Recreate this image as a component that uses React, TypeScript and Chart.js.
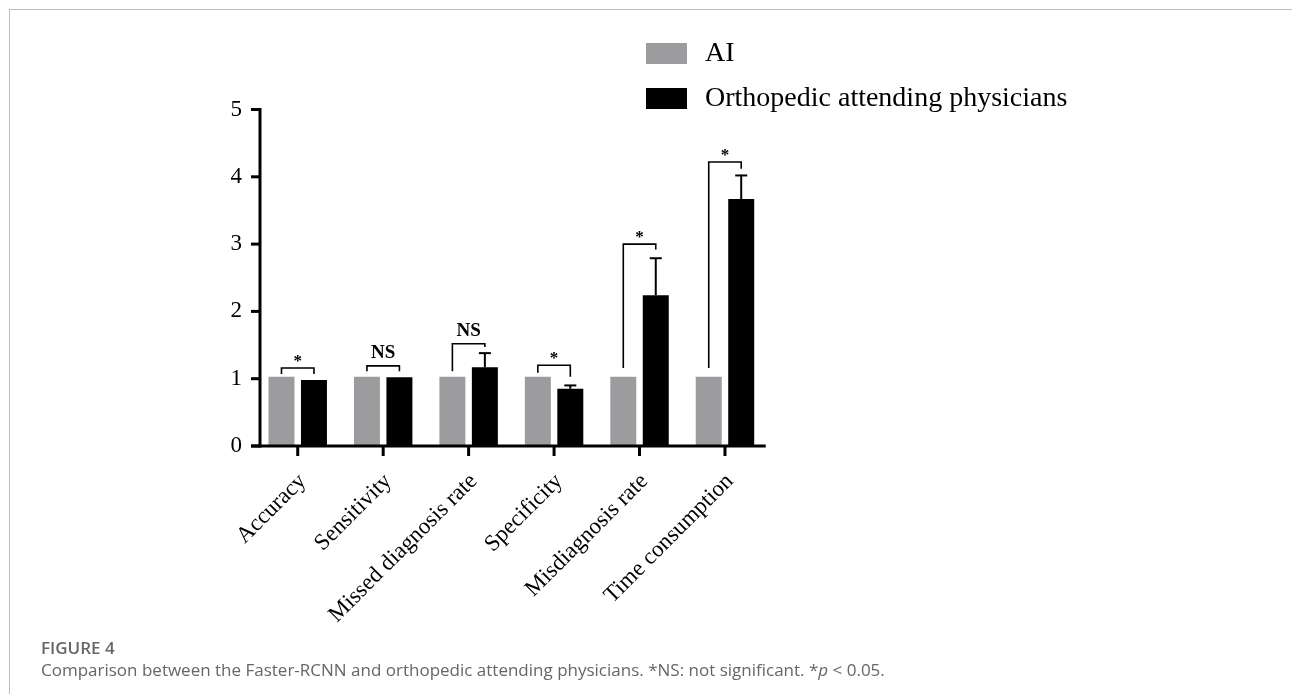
import React, { useEffect, useRef } from 'react';
import { Chart, registerables } from 'chart.js';

Chart.register(...registerables);

const categories = [
  'Accuracy',
  'Sensitivity',
  'Missed diagnosis rate',
  'Specificity',
  'Misdiagnosis rate',
  'Time consumption',
];
const seriesNames = ['AI', 'Orthopedic attending physicians'];
const aiValues = [1.03, 1.03, 1.03, 1.03, 1.03, 1.03];
const physicianValues = [0.98, 1.02, 1.17, 0.85, 2.24, 3.67];
const physicianErrorUp = [0, 0, 0.21, 0.05, 0.55, 0.35];
const yTicks = [0, 1, 2, 3, 4, 5];
const sigLabels = ['*', 'NS', 'NS', '*', '*', '*'];
const bracketTop = [1.16, 1.19, 1.52, 1.2, 3.0, 4.22];
const bracketLeftEnd = [1.07, 1.11, 1.11, 1.09, 1.16, 1.16];
const bracketRightEnd = [1.07, 1.11, 1.47, 1.03, 2.92, 4.12];

const SERIF = '"Liberation Serif", "Times New Roman", serif';
const GRAY = '#9c9c9f';

const annotations = {
  id: 'annotations',
  afterDatasetsDraw(chart: any) {
    const { ctx, chartArea, scales } = chart;
    const x = scales.x;
    const y = scales.y;
    const m0 = chart.getDatasetMeta(0);
    const m1 = chart.getDatasetMeta(1);
    const line = (x1: number, y1: number, x2: number, y2: number) => {
      ctx.beginPath();
      ctx.moveTo(x1, y1);
      ctx.lineTo(x2, y2);
      ctx.stroke();
    };
    ctx.save();
    ctx.strokeStyle = '#000';
    ctx.fillStyle = '#000';

    // error bars (upper only)
    ctx.lineWidth = 2;
    physicianValues.forEach((v, i) => {
      const e = physicianErrorUp[i];
      if (!e) return;
      const bx = m1.data[i].x;
      const y0 = y.getPixelForValue(v);
      const y1 = y.getPixelForValue(v + e);
      line(bx, y0, bx, y1);
      line(bx - 6, y1, bx + 6, y1);
    });

    // significance brackets
    ctx.lineWidth = 1.6;
    categories.forEach((_, i) => {
      const lx = m0.data[i].x;
      const rx = m1.data[i].x;
      const ty = y.getPixelForValue(bracketTop[i]);
      ctx.beginPath();
      ctx.moveTo(lx, y.getPixelForValue(bracketLeftEnd[i]));
      ctx.lineTo(lx, ty);
      ctx.lineTo(rx, ty);
      ctx.lineTo(rx, y.getPixelForValue(bracketRightEnd[i]));
      ctx.stroke();
      const cx = (lx + rx) / 2;
      ctx.textAlign = 'center';
      ctx.textBaseline = 'alphabetic';
      if (sigLabels[i] === '*') {
        ctx.font = `bold 17px ${SERIF}`;
        ctx.fillText('*', cx, ty - 2);
      } else {
        ctx.font = `bold 19px ${SERIF}`;
        ctx.fillText(sigLabels[i], cx, ty - 8);
      }
    });

    // axes
    ctx.lineWidth = 3;
    const ax = chartArea.left + 5;
    const y0 = y.getPixelForValue(0);
    const yTop = y.getPixelForValue(yTicks[yTicks.length - 1]);
    line(ax, y0 + 1.5, ax, yTop - 1.5);
    yTicks.forEach((t) => {
      const py = y.getPixelForValue(t);
      line(ax - 9, py, ax, py);
    });
    line(ax - 9, y0, chartArea.right - 2, y0);
    categories.forEach((_, i) => {
      const px = x.getPixelForValue(i);
      line(px, y0, px, y0 + 10);
    });

    // legend
    ctx.font = `28px ${SERIF}`;
    ctx.textAlign = 'left';
    ctx.textBaseline = 'middle';
    chart.data.datasets.forEach((ds: any, i: number) => {
      const top = 43 + i * 45;
      ctx.fillStyle = ds.backgroundColor;
      ctx.fillRect(646, top, 41, 21);
      ctx.fillStyle = '#000';
      ctx.fillText(ds.label, 705, top + 11);
    });
    ctx.restore();
  },
};

export default function App() {
  const canvasRef = useRef<HTMLCanvasElement | null>(null);

  useEffect(() => {
    if (!canvasRef.current) return;
    const chart = new Chart(canvasRef.current, {
      type: 'bar',
      data: {
        labels: categories,
        datasets: [
          {
            label: seriesNames[0],
            data: aiValues,
            backgroundColor: GRAY,
            borderWidth: 0,
            categoryPercentage: 0.76,
            barPercentage: 0.8,
          },
          {
            label: seriesNames[1],
            data: physicianValues,
            backgroundColor: '#000000',
            borderWidth: 0,
            categoryPercentage: 0.76,
            barPercentage: 0.8,
          },
        ],
      },
      options: {
        animation: false,
        responsive: false,
        devicePixelRatio: 1,
        layout: { padding: { left: 0, top: 109.5, right: 524.3, bottom: 0 } },
        plugins: {
          legend: { display: false },
          tooltip: { enabled: false },
        },
        scales: {
          x: {
            offset: true,
            grid: { display: false },
            border: { display: false },
            ticks: {
              minRotation: 45,
              maxRotation: 45,
              autoSkip: false,
              padding: 14,
              labelOffset: 5,
              color: '#000',
              font: { family: SERIF, size: 23 },
            },
            afterFit: (scale: any) => {
              scale.height = 194;
            },
          },
          y: {
            min: 0,
            max: 5,
            grid: { display: false },
            border: { display: false },
            afterBuildTicks: (scale: any) => {
              scale.ticks = yTicks.map((v) => ({ value: v }));
            },
            ticks: {
              padding: 5,
              color: '#000',
              font: { family: SERIF, size: 23 },
            },
            afterFit: (scale: any) => {
              scale.width = 255;
            },
          },
        },
      },
      plugins: [annotations],
    });
    return () => chart.destroy();
  }, []);

  return (
    <div
      style={{
        position: 'fixed',
        left: 0,
        top: 0,
        width: 1292,
        height: 694,
        background: '#fff',
        overflow: 'hidden',
      }}
    >
      <div
        style={{
          position: 'absolute',
          left: 9,
          top: 9,
          width: 1300,
          height: 700,
          borderTop: '1px solid #bdbdbd',
          borderLeft: '1px solid #bdbdbd',
        }}
      />
      <canvas
        ref={canvasRef}
        width={1292}
        height={640}
        style={{ position: 'absolute', left: 0, top: 0, width: 1292, height: 640 }}
      />
      <div
        style={{
          position: 'absolute',
          left: 41,
          top: 638,
          fontFamily: '"Open Sans", sans-serif',
          fontWeight: 600,
          fontSize: 17,
          lineHeight: '20px',
          color: '#666',
          whiteSpace: 'nowrap',
        }}
      >
        FIGURE 4
      </div>
      <div
        style={{
          position: 'absolute',
          left: 41,
          top: 660,
          fontFamily: '"Open Sans", sans-serif',
          fontSize: 17,
          lineHeight: '20px',
          color: '#666',
          whiteSpace: 'nowrap',
        }}
      >
        Comparison between the Faster-RCNN and orthopedic attending physicians. *NS: not significant. *<i>p</i> &lt; 0.05.
      </div>
    </div>
  );
}
